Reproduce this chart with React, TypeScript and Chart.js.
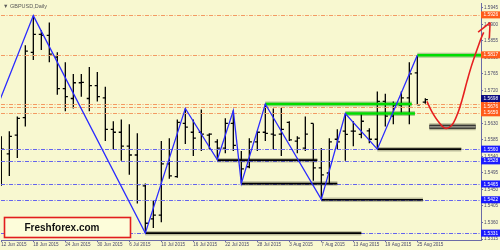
import React, { useEffect, useRef } from "react";
import { Chart, registerables } from "chart.js";
Chart.register(...registerables);

// ---- axis ticks ----
const tickIndex = [0, 4, 8, 12, 16, 20, 24, 28, 32, 36, 40, 44, 48, 52];
const tickDates = ["12 Jun 2015", "18 Jun 2015", "24 Jun 2015", "30 Jun 2015", "6 Jul 2015", "10 Jul 2015", "16 Jul 2015", "22 Jul 2015", "28 Jul 2015", "3 Aug 2015", "7 Aug 2015", "13 Aug 2015", "19 Aug 2015", "25 Aug 2015"];
const priceTicks = [1.5315, 1.536, 1.5405, 1.545, 1.5495, 1.554, 1.5585, 1.563, 1.5675, 1.572, 1.5765, 1.581, 1.5855, 1.59, 1.5945];

// ---- OHLC daily bars ----
const opens = [1.5557, 1.5547, 1.5598, 1.5646, 1.5824, 1.5873, 1.587, 1.5811, 1.5725, 1.5698, 1.5741, 1.5698, 1.5733, 1.57, 1.5614, 1.5606, 1.5568, 1.5544, 1.546, 1.537, 1.538, 1.552, 1.5485, 1.563, 1.5606, 1.5606, 1.5598, 1.558, 1.5563, 1.563, 1.553, 1.5512, 1.558, 1.5606, 1.5601, 1.5601, 1.5633, 1.5582, 1.5563, 1.563, 1.5509, 1.5495, 1.5587, 1.5609, 1.5609, 1.56, 1.561, 1.5587, 1.569, 1.565, 1.568, 1.57, 1.5768, 1.5688];
const highs = [1.5595, 1.5609, 1.5649, 1.5843, 1.5924, 1.5884, 1.5905, 1.5824, 1.5797, 1.5765, 1.5765, 1.5784, 1.577, 1.573, 1.5636, 1.5641, 1.5628, 1.5603, 1.5466, 1.542, 1.5582, 1.559, 1.5641, 1.5671, 1.5641, 1.5668, 1.5603, 1.5587, 1.5644, 1.5665, 1.5555, 1.559, 1.5609, 1.5683, 1.5671, 1.5673, 1.5636, 1.5595, 1.5649, 1.563, 1.5563, 1.559, 1.5614, 1.5657, 1.5636, 1.5657, 1.5617, 1.5717, 1.5711, 1.569, 1.5717, 1.5797, 1.5816, 1.5699];
const lows = [1.546, 1.5487, 1.5536, 1.5622, 1.5803, 1.583, 1.5797, 1.5708, 1.5663, 1.5671, 1.5703, 1.5663, 1.569, 1.5582, 1.556, 1.5528, 1.549, 1.5412, 1.5331, 1.5345, 1.5361, 1.5479, 1.5482, 1.5574, 1.5541, 1.5555, 1.556, 1.5531, 1.5549, 1.5555, 1.5466, 1.5508, 1.5555, 1.5582, 1.556, 1.5541, 1.5582, 1.5549, 1.5555, 1.5474, 1.5423, 1.5463, 1.556, 1.5528, 1.5568, 1.559, 1.5576, 1.556, 1.5622, 1.5628, 1.5655, 1.5628, 1.5681, 1.5684];
const closes = [1.556, 1.5595, 1.5644, 1.5827, 1.5873, 1.587, 1.5819, 1.5725, 1.5703, 1.5741, 1.5742, 1.5733, 1.5703, 1.5614, 1.5606, 1.5568, 1.5544, 1.5463, 1.5358, 1.538, 1.552, 1.5487, 1.5633, 1.562, 1.559, 1.5601, 1.5601, 1.5563, 1.563, 1.557, 1.5506, 1.558, 1.5606, 1.5603, 1.5598, 1.5614, 1.5585, 1.559, 1.5601, 1.5509, 1.549, 1.558, 1.558, 1.56, 1.5609, 1.5636, 1.5587, 1.569, 1.565, 1.568, 1.57, 1.5765, 1.5681, 1.5695];
const currentPrice = 1.5698;

// ---- ZigZag ----
const zigzagIdx = [-3, 4, 18, 23, 27, 29, 30, 33, 40, 43, 47, 52];
const zigzagVal = [1.5538, 1.5924, 1.5331, 1.5671, 1.5531, 1.5665, 1.5466, 1.5683, 1.5423, 1.5657, 1.556, 1.5816];

// ---- horizontal levels ----
const orangeLevels = [1.5926, 1.5817, 1.5684, 1.5676, 1.5659];
const blueLevels = [1.556, 1.5528, 1.5465, 1.5422, 1.5331];

// ---- black support segments ----
const blackStart = [18, 27, 30, 40, 47];
const blackEnd = [45, 39.5, 42, 52.7, 57.5];
const blackVal = [1.5331, 1.553, 1.5466, 1.5422, 1.556];

// ---- green resistance segments ----
const greenStart = [33, 43, 52];
const greenEnd = [51.3, 51.7, 60];
const greenVal = [1.5683, 1.5657, 1.5816];

// ---- grey target box ----
const boxStart = 53.5;
const boxEnd = 59.3;
const boxVal = 1.5621;

// ---- red forecast path ----
const redIdx = [53.2, 53.8, 54.6, 55.5, 56.3, 57.0, 57.6, 58.2, 58.8, 59.6, 60.3, 61.1];
const redVal = [1.569, 1.5663, 1.5636, 1.5617, 1.5625, 1.5655, 1.5695, 1.5744, 1.5789, 1.584, 1.5878, 1.5905];
const arrowBarbIdx = [59.6, 61.0];
const arrowBarbVal = [1.5879, 1.5862];

const XMIN = -0.04;
const XMAX = 59.96;
const YMIN = 1.53123;
const YMAX = 1.59563;

const FONT = "Liberation Sans, Arial, sans-serif";

const pts = (xs: number[], ys: number[]) => xs.map((x, k) => ({ x, y: ys[k] }));

export default function App() {
  const ref = useRef<HTMLCanvasElement | null>(null);
  useEffect(() => {
    document.body.style.margin = "0";
    const canvas = ref.current!;
    const datasets: any[] = [];
    const base = { pointRadius: 0, tension: 0, fill: false, borderCapStyle: "butt" };
    // black segments (shadow + line)
    blackVal.forEach((v, k) => {
      const d = pts([blackStart[k], blackEnd[k]], [v, v]);
      datasets.push({ ...base, data: d, borderColor: "rgba(40,40,20,0.28)", borderWidth: 4.5, order: 9 });
      datasets.push({ ...base, data: d, borderColor: "#000000", borderWidth: 1.6, order: 8 });
    });
    greenVal.forEach((v, k) => {
      const d = pts([greenStart[k], greenEnd[k]], [v, v]);
      datasets.push({ ...base, data: d, borderColor: "rgba(0,90,0,0.3)", borderWidth: 5, order: 7 });
      datasets.push({ ...base, data: d, borderColor: "#00dd00", borderWidth: 2.6, order: 6 });
    });
    const bd = pts([boxStart, boxEnd], [boxVal, boxVal]);
    datasets.push({ ...base, data: bd, borderColor: "rgba(40,40,20,0.3)", borderWidth: 7, order: 7 });
    datasets.push({ ...base, data: bd, borderColor: "#1a1a1a", borderWidth: 4.2, order: 6 });
    datasets.push({ ...base, data: bd, borderColor: "#8c8c80", borderWidth: 2, order: 5 });
    datasets.push({ ...base, data: pts(zigzagIdx, zigzagVal), borderColor: "#2b2bff", borderWidth: 1.3, order: 3 });
    datasets.push({ ...base, data: pts(redIdx, redVal), borderColor: "#e62020", borderWidth: 1.6, tension: 0.35, clip: false, order: 1 });
    const tipX = redIdx[redIdx.length - 1];
    const tipY = redVal[redVal.length - 1];
    arrowBarbIdx.forEach((bx, k) => {
      datasets.push({ ...base, data: [{ x: bx, y: arrowBarbVal[k] }, { x: tipX, y: tipY }], borderColor: "#e62020", borderWidth: 1.6, clip: false, order: 1 });
    });

    const decor = {
      id: "decor",
      beforeDraw(chart: any) {
        const c = chart.ctx;
        c.save();
        c.fillStyle = "#f8f8d0";
        c.fillRect(0, 0, chart.width, chart.height);
        c.restore();
      },
      beforeDatasetsDraw(chart: any) {
        const c = chart.ctx;
        const { chartArea: a, scales } = chart;
        const xs = scales.x, ys = scales.y;
        c.save();
        c.beginPath();
        c.rect(a.left, a.top, a.right - a.left, a.bottom - a.top);
        c.clip();
        // OHLC bars
        c.strokeStyle = "#000";
        c.lineWidth = 1.3;
        for (let i = 0; i < opens.length; i++) {
          const px = xs.getPixelForValue(i);
          c.beginPath();
          c.moveTo(px, ys.getPixelForValue(highs[i]));
          c.lineTo(px, ys.getPixelForValue(lows[i]));
          const yo = ys.getPixelForValue(opens[i]);
          const yc = ys.getPixelForValue(closes[i]);
          c.moveTo(px - 2.6, yo);
          c.lineTo(px, yo);
          c.moveTo(px, yc);
          c.lineTo(px + 2.6, yc);
          c.stroke();
        }
        // dash-dot levels
        c.lineWidth = 1;
        c.setLineDash([4, 1.5, 1, 1.5]);
        const drawLevel = (v: number, col: string) => {
          const py = Math.round(ys.getPixelForValue(v)) + 0.5;
          c.strokeStyle = col;
          c.beginPath();
          c.moveTo(a.left, py);
          c.lineTo(a.right, py);
          c.stroke();
        };
        orangeLevels.forEach((v) => drawLevel(v, "#f39a62"));
        blueLevels.forEach((v) => drawLevel(v, "#6464ee"));
        c.restore();

        // price labels on axis
        c.save();
        c.font = `4.8px ${FONT}`;
        c.textBaseline = "middle";
        const label = (v: number, bg: string) => {
          const py = ys.getPixelForValue(v);
          c.fillStyle = bg;
          c.fillRect(a.right, py - 3.5, chart.width - a.right, 7);
          c.fillStyle = "#ffffff";
          c.fillText(v.toFixed(4), a.right + 2.5, py + 0.3);
        };
        blueLevels.forEach((v) => label(v, "#1a1aff"));
        orangeLevels.forEach((v) => label(v, "#ff5a1a"));
        label(currentPrice, "#0a0a80");
        c.restore();
      },
      afterDraw(chart: any) {
        const c = chart.ctx;
        c.save();
        // title
        c.fillStyle = "#585858";
        c.font = `5.5px ${FONT}`;
        c.textBaseline = "middle";
        c.fillText("\u25BC GBPUSD,Daily", 3, 6);
        // watermark box
        c.fillStyle = "#fdfdda";
        c.fillRect(4.5, 217.5, 126, 20);
        c.strokeStyle = "#e21d1d";
        c.lineWidth = 1.6;
        c.strokeRect(4.5, 217.5, 126, 20);
        c.fillStyle = "#111";
        c.font = `bold 10px ${FONT}`;
        c.textAlign = "center";
        c.fillText("Freshforex.com", 62, 228);
        c.restore();
      },
    };

    const axisColor = "#6c6ca6";
    const chart = new Chart(canvas, {
      type: "line",
      data: { datasets },
      options: {
        animation: false,
        responsive: false,
        maintainAspectRatio: false,
        layout: { padding: { top: 1, left: 1, right: 0, bottom: 0 } },
        plugins: { legend: { display: false }, tooltip: { enabled: false } },
        scales: {
          x: {
            type: "linear",
            min: XMIN,
            max: XMAX,
            position: "bottom",
            afterBuildTicks: (s: any) => {
              s.ticks = tickIndex.map((v) => ({ value: v }));
            },
            afterFit: (s: any) => {
              s.height = 10;
            },
            ticks: {
              autoSkip: false,
              maxRotation: 0,
              minRotation: 0,
              align: "start",
              padding: 0,
              color: "#4a4a6a",
              font: { size: 4.6, family: FONT },
              callback: (v: any) => {
                const k = tickIndex.indexOf(Number(v));
                return k >= 0 ? tickDates[k] : "";
              },
            },
            grid: { drawOnChartArea: false, drawTicks: true, tickLength: 2, color: axisColor },
            border: { display: true, color: axisColor, width: 1 },
          },
          y: {
            type: "linear",
            position: "right",
            min: YMIN,
            max: YMAX,
            afterBuildTicks: (s: any) => {
              s.ticks = priceTicks.map((v) => ({ value: v }));
            },
            afterFit: (s: any) => {
              s.width = 19;
            },
            ticks: {
              autoSkip: false,
              padding: 1,
              color: "#4a4a6a",
              font: { size: 4.6, family: FONT },
              callback: (v: any) => Number(v).toFixed(4),
            },
            grid: { drawOnChartArea: false, drawTicks: true, tickLength: 2, color: axisColor },
            border: { display: true, color: axisColor, width: 1 },
          },
        },
      } as any,
      plugins: [decor],
    });
    return () => chart.destroy();
  }, []);
  return (
    <div style={{ width: 500, height: 250 }}>
      <canvas ref={ref} width={500} height={250} style={{ display: "block", width: 500, height: 250 }} />
    </div>
  );
}
